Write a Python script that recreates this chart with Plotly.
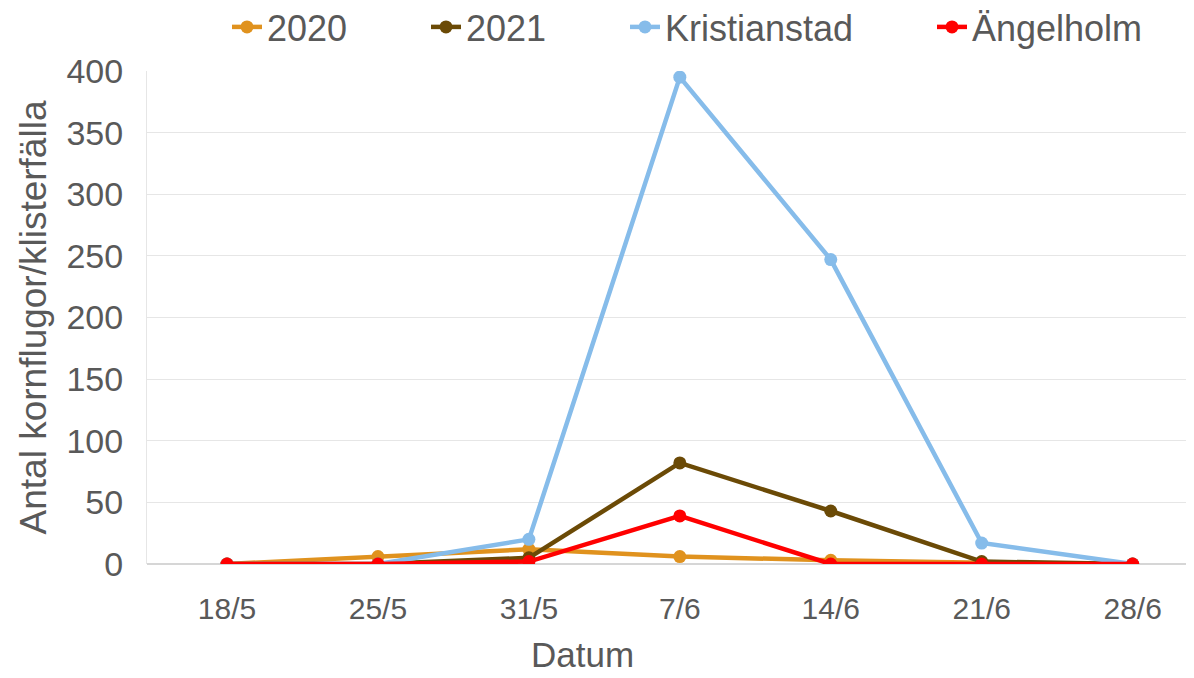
import plotly.graph_objects as go

dates = ["18/5", "25/5", "31/5", "7/6", "14/6", "21/6", "28/6"]
y2020 = [0, 6, 12, 6, 3, 1, 0]
y2021 = [0, 0, 5, 82, 43, 2, 0]
kristianstad = [0, 0, 20, 395, 247, 17, 0]
angelholm = [0, 0, 2, 39, 0, 0, 0]

series = [
    ("2020", y2020, "#E0921E"),
    ("2021", y2021, "#6B4A06"),
    ("Kristianstad", kristianstad, "#86BCEA"),
    ("Ängelholm", angelholm, "#FF0000"),
]

# page body has an 8px margin; figure coordinates = screenshot coordinates - 8
OFF = 8
legend_text_px = [267 - OFF, 466 - OFF, 665 - OFF, 972 - OFF]
W, H = 1194 - OFF, 678 - OFF
L, T = 147 - OFF, 71 - OFF
R = W - (1190 - OFF)
B = H - (564 - OFF)
pw = W - L - R
ph = H - T - B

font = "Liberation Sans, Arial, sans-serif"
grey = "#595959"

fig = go.Figure()
layout_legends = {}
for i, (name, vals, col) in enumerate(series):
    lname = "legend" if i == 0 else f"legend{i+1}"
    fig.add_trace(go.Scatter(
        x=dates, y=vals, name=name, mode="lines+markers",
        line=dict(color=col, width=4.5),
        marker=dict(color=col, size=13),
        legend=lname,
    ))
    layout_legends[lname] = dict(
        x=(legend_text_px[i] - 40 - L) / pw, xanchor="left",
        y=(H - B - (27 - OFF)) / ph, yanchor="middle",
        font=dict(size=36, color=grey, family=font),
        bgcolor="rgba(0,0,0,0)", borderwidth=0,
    )

fig.add_annotation(
    text="Datum", xref="paper", yref="paper",
    x=(582 - OFF - L) / pw, y=(H - B - (654 - OFF)) / ph,
    xanchor="center", yanchor="middle", showarrow=False,
    font=dict(size=35, color=grey, family=font),
)

fig.update_layout(
    width=W, height=H,
    margin=dict(l=L, r=R, t=T, b=B, autoexpand=False),
    paper_bgcolor="white", plot_bgcolor="white",
    font=dict(family=font, color=grey),
    showlegend=True,
    xaxis=dict(
        type="category", range=[-0.53, 6.38],
        tickfont=dict(size=30, color=grey),
        showgrid=False, showline=False, ticks="", zeroline=False,
        ticklabelstandoff=24,
    ),
    yaxis=dict(
        range=[0, 400], dtick=50,
        tickfont=dict(size=34, color=grey),
        title=dict(text="Antal kornflugor/klisterfälla", font=dict(size=37, color=grey), standoff=8),
        showgrid=True, gridcolor="#E6E6E6", gridwidth=1,
        zeroline=True, zerolinecolor="#D6D6D6", zerolinewidth=2,
        showline=True, linecolor="#E6E6E6", linewidth=1,
        ticks="", ticklabelstandoff=16,
    ),
    **layout_legends,
)
fig.write_html("out.html")
